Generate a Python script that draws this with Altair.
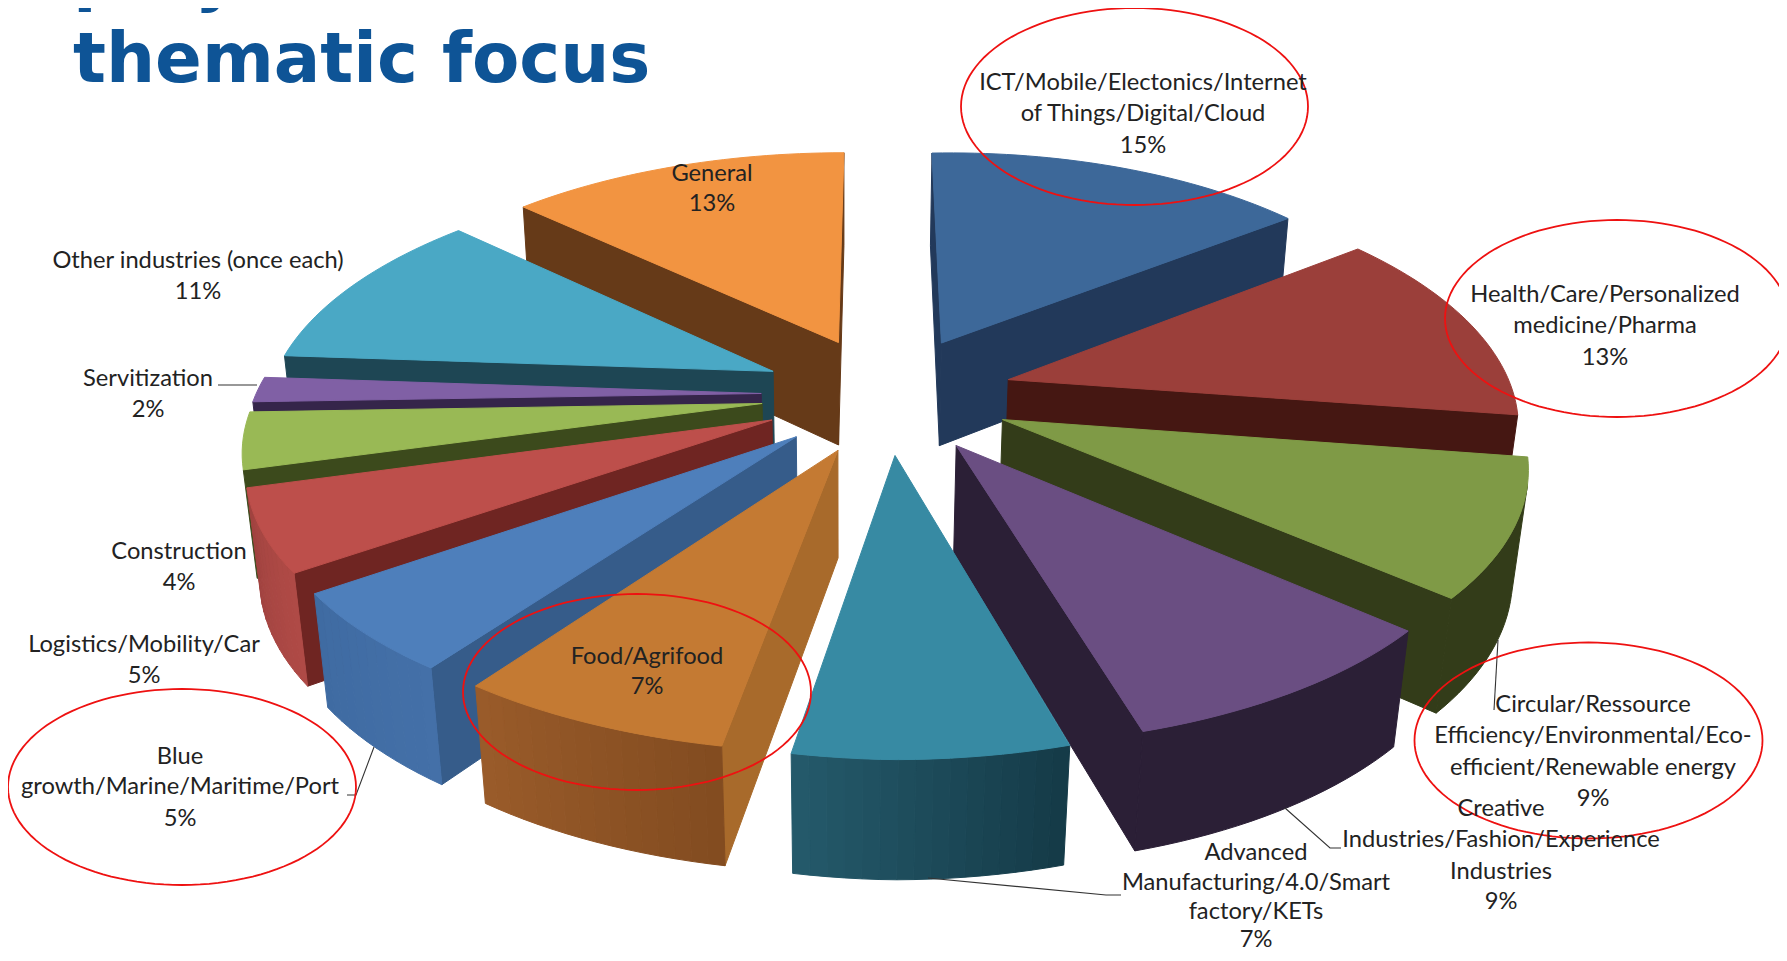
import math
import altair as alt
import pandas as pd

# ---- values (labels show them rounded)
categories = ["ICT", "Health", "Circular", "Creative", "Advanced", "Food", "Blue",
              "Logistics", "Construction", "Servitization", "Other", "General"]
shares = [15, 13, 9, 9, 7, 7, 5.28, 5.41, 3.75, 1.67, 10.89, 13]
top_colors = ["#3d6899", "#9b3f3a", "#7f9a46", "#6a4e82", "#378aa3", "#c47a33",
              "#4e7fbb", "#bd4f4b", "#99b955", "#8060a5", "#4aa8c5", "#f29441"]
wall_colors = ["#22395a", "#451712", "#333c19", "#2b1f36", "#1f4f5f", "#a86a2b",
               "#365c8a", "#6f2522", "#3c4a1c", "#35254a", "#1e4654", "#663a18"]
arc_left_colors = ["#22395a", "#451712", "#333c19", "#2b1f36", "#255a6b", "#9a5c2a",
                   "#3f6ba2", "#a04340", "#3c4a1c", "#35254a", "#1e4654", "#663a18"]
arc_right_colors = ["#22395a", "#451712", "#333c19", "#2b1f36", "#143a47", "#824b20",
                    "#4470a8", "#b04a46", "#3c4a1c", "#35254a", "#1e4654", "#663a18"]

label_text = ["ICT/Mobile/Electonics/Internet", "of Things/Digital/Cloud", "15%",
              "Health/Care/Personalized", "medicine/Pharma", "13%",
              "Circular/Ressource", "Efficiency/Environmental/Eco-", "efficient/Renewable energy", "9%",
              "Creative", "Industries/Fashion/Experience", "Industries", "9%",
              "Advanced", "Manufacturing/4.0/Smart", "factory/KETs", "7%",
              "Food/Agrifood", "7%",
              "Blue", "growth/Marine/Maritime/Port", "5%",
              "Logistics/Mobility/Car", "5%",
              "Construction", "4%",
              "Servitization", "2%",
              "Other industries (once each)", "11%",
              "General", "13%"]
label_x = [1143, 1143, 1143, 1605, 1605, 1605, 1593, 1593, 1593, 1593,
           1501, 1501, 1501, 1501, 1256, 1256, 1256, 1256, 647, 647,
           180, 180, 180, 144, 144, 179, 179, 148, 148, 198, 198, 712, 712]
label_y = [83, 114, 146, 295, 326, 358, 705, 736, 768, 799,
           809, 840, 872, 902, 853, 883, 912, 940, 657, 687,
           757, 787, 819, 645, 676, 552, 583, 379, 410, 261, 292, 174, 204]

title_lines = ["projects on", "thematic focus"]
title_baselines = [-2, 82]

leader_id = ["s", "s", "b", "b", "b", "c", "c", "c", "a", "a", "a", "r", "r"]
leader_x = [218, 257, 347, 356, 374, 1285, 1330, 1341, 928, 1106, 1121, 1498, 1494]
leader_y = [385, 385, 795, 795, 747, 808, 848, 848, 878, 895, 895, 640, 710]

ellipse_cx = [1134.5, 1617, 1588.5, 637, 182]
ellipse_cy = [106.5, 318.5, 740.5, 692, 787]
ellipse_rx = [173.5, 172, 174, 174, 174]
ellipse_ry = [98.5, 98.5, 98, 98, 98]

# ---- camera and pie proportions
CX, CY = 845.0, 394.5
SHIFT_X = 0.098
FOCAL, DIST = 2525.0, 5.0
TILT = math.radians(27.7)
DEPTH_Y = 0.89
ROLL_RIGHT = 0.018
BOW_RIGHT = 0.019
BOW_LEFT = 0.012
PIVOT_X = 890.0
EXPLODE = 0.25
APEX_DX = -0.011
THICK = 0.24
ARC_STEP = 1.5


def project(px, py, pz):
    c, s = math.cos(TILT), math.sin(TILT)
    w = DIST + py * c - pz * s
    wy = DIST + DEPTH_Y * py * c - pz * s
    sx = CX + FOCAL * (px + SHIFT_X) / w
    sy = CY - FOCAL * (py * s + pz * c) / wy
    sy -= ROLL_RIGHT * max(0.0, sx - PIVOT_X)
    sx -= (BOW_RIGHT if sx > PIVOT_X else BOW_LEFT) * abs(sx - PIVOT_X)
    return (sx, sy)


def mix(a, b, t):
    ca = [int(a[i:i + 2], 16) for i in (1, 3, 5)]
    cb = [int(b[i:i + 2], 16) for i in (1, 3, 5)]
    return "#%02x%02x%02x" % tuple(round(p + (q - p) * t) for p, q in zip(ca, cb))


cam = (-SHIFT_X, -DIST * math.cos(TILT), DIST * math.sin(TILT))


def faces_camera(p, n):
    return sum((cam[i] - p[i]) * n[i] for i in range(3)) > 0


rows = []
poly = [0]


def add_poly(points, color):
    pid = poly[0]
    poly[0] += 1
    for k, pt in enumerate(points + points[:1]):
        sx, sy = project(*pt)
        rows.append({"pid": pid, "k": k, "sx": sx, "sy": sy, "col": color})


total = sum(shares)
wedges = []
acc = 0.0
for i, v in enumerate(shares):
    a0 = acc / total * 360
    acc += v
    a1 = acc / total * 360
    wedges.append((i, a0, a1))

# painter's order: farthest wedge first
wedges.sort(key=lambda t: -math.cos(math.radians((t[1] + t[2]) / 2)))

for i, a0, a1 in wedges:
    mid = math.radians((a0 + a1) / 2)
    ex, ey = EXPLODE * math.sin(mid), EXPLODE * math.cos(mid)
    t0, t1 = math.radians(a0), math.radians(a1)
    steps = max(2, int((a1 - a0) / ARC_STEP))
    angles = [t0 + (t1 - t0) * j / steps for j in range(steps + 1)]
    rim = lambda t, z: (ex + math.sin(t), ey + math.cos(t), z)
    apex_top, apex_bot = (ex + APEX_DX, ey, 0.0), (ex + APEX_DX, ey, -THICK)
    # radial walls
    if faces_camera(apex_top, (-math.cos(t0), math.sin(t0), 0)):
        add_poly([apex_top, rim(t0, 0), rim(t0, -THICK), apex_bot], wall_colors[i])
    if faces_camera(apex_top, (math.cos(t1), -math.sin(t1), 0)):
        add_poly([apex_top, rim(t1, 0), rim(t1, -THICK), apex_bot], wall_colors[i])
    # outer wall
    visible = [j for j in range(steps)
               if faces_camera(rim((angles[j] + angles[j + 1]) / 2, 0),
                               (math.sin((angles[j] + angles[j + 1]) / 2),
                                math.cos((angles[j] + angles[j + 1]) / 2), 0))]
    if visible:
        if arc_left_colors[i] == arc_right_colors[i]:
            run = [angles[j] for j in visible] + [angles[visible[-1] + 1]]
            add_poly([rim(t, 0) for t in run] + [rim(t, -THICK) for t in reversed(run)],
                     arc_left_colors[i])
        else:
            for j in visible:
                col = mix(arc_right_colors[i], arc_left_colors[i], (j + 0.5) / steps)
                add_poly([rim(angles[j], 0), rim(angles[j + 1], 0),
                          rim(angles[j + 1], -THICK), rim(angles[j], -THICK)], col)
    # top face
    add_poly([apex_top] + [rim(t, 0) for t in angles], top_colors[i])

pie_df = pd.DataFrame(rows)

ell_rows = []
for e, (cx, cy, rx, ry) in enumerate(zip(ellipse_cx, ellipse_cy, ellipse_rx, ellipse_ry)):
    for k in range(121):
        t = 2 * math.pi * k / 120
        ell_rows.append({"e": e, "k": k, "sx": cx + rx * math.cos(t), "sy": cy + ry * math.sin(t)})
ell_df = pd.DataFrame(ell_rows)

label_df = pd.DataFrame({"t": label_text, "sx": label_x, "sy": label_y})
title_df = pd.DataFrame({"t": title_lines, "sx": [73, 73], "sy": title_baselines})
leader_df = pd.DataFrame({"l": leader_id, "k": range(len(leader_id)), "sx": leader_x, "sy": leader_y})

X = alt.X("sx:Q", scale=alt.Scale(domain=[8, 1779], range=[0, 1771], nice=False, zero=False), axis=None)
Y = alt.Y("sy:Q", scale=alt.Scale(domain=[8, 953], range=[0, 945], nice=False, zero=False), axis=None)

pie = alt.Chart(pie_df).mark_line(strokeWidth=1.0, interpolate="linear").encode(
    x=X, y=Y, order="k:Q", detail="pid:N",
    fill=alt.Fill("col:N", scale=None), stroke=alt.Stroke("col:N", scale=None))

leaders = alt.Chart(leader_df).mark_line(color="#333333", strokeWidth=1.1).encode(
    x=X, y=Y, order="k:Q", detail="l:N")

labels = alt.Chart(label_df).mark_text(font="Lato", fontSize=23.7, color="#222222",
                                       align="center", baseline="middle").encode(x=X, y=Y, text="t:N")

titles = alt.Chart(title_df).mark_text(font="DejaVu Sans", fontWeight="bold", fontSize=69,
                                       color="#0e5496", align="left",
                                       baseline="alphabetic").encode(x=X, y=Y, text="t:N")

ellipses = alt.Chart(ell_df).mark_line(color="#ee1111", strokeWidth=1.8).encode(
    x=X, y=Y, order="k:Q", detail="e:N")

chart = alt.layer(pie, leaders, ellipses, labels, titles).properties(
    width=1771, height=945, padding=0, autosize=alt.AutoSizeParams(type="none"), background="white"
).configure_view(stroke=None)

chart.save("out.html", embed_options={"renderer": "svg", "actions": False})
